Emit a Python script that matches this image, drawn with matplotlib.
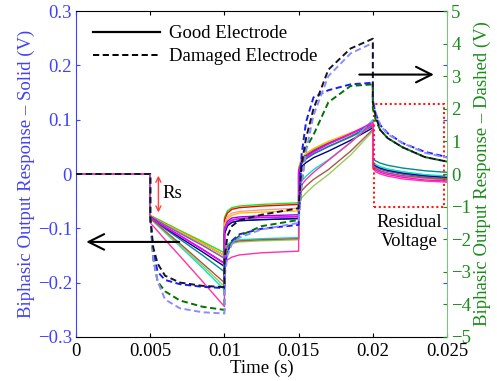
import matplotlib
matplotlib.use("Agg")
import matplotlib.pyplot as plt
from matplotlib.lines import Line2D
from matplotlib.patches import Rectangle

plt.rcParams['font.family'] = ['Liberation Serif', 'DejaVu Serif']
plt.rcParams['mathtext.fontset'] = 'stix'

# time grid (s): flat part, then the four phases of the pulse
t = [0, 0.005,
     0.005, 0.0052, 0.0055, 0.006, 0.007, 0.0085, 0.01,
     0.01, 0.0102, 0.0105, 0.011, 0.0125, 0.015,
     0.015, 0.0152, 0.0155, 0.016, 0.017, 0.0185, 0.02,
     0.02, 0.0202, 0.0205, 0.021, 0.022, 0.0235, 0.025]

# good electrodes (left axis, V)
good_green = [0, 0, -0.076, -0.079, -0.083, -0.090, -0.104, -0.124, -0.145,
              -0.080, -0.068, -0.062, -0.059, -0.056, -0.053,
              0.010, 0.028, 0.036, 0.045, 0.058, 0.074, 0.090,
              0.022, 0.017, 0.013, 0.009, 0.004, -0.002, -0.006]
good_red = [0, 0, -0.077, -0.080, -0.085, -0.092, -0.106, -0.127, -0.150,
            -0.085, -0.072, -0.065, -0.062, -0.059, -0.056,
            0.008, 0.026, 0.034, 0.043, 0.056, 0.072, 0.088,
            0.020, 0.015, 0.011, 0.007, 0.002, -0.004, -0.008]
good_salmon = [0, 0, -0.078, -0.081, -0.086, -0.094, -0.109, -0.131, -0.155,
               -0.092, -0.079, -0.072, -0.069, -0.066, -0.063,
               0.006, 0.024, 0.033, 0.042, 0.055, 0.072, 0.090,
               0.019, 0.014, 0.010, 0.006, 0.001, -0.005, -0.009]
good_orange = [0, 0, -0.077, -0.080, -0.085, -0.092, -0.106, -0.127, -0.150,
               -0.095, -0.083, -0.076, -0.072, -0.070, -0.068,
               0.010, 0.030, 0.038, 0.047, 0.060, 0.076, 0.092,
               0.021, 0.016, 0.012, 0.008, 0.003, -0.003, -0.007]
good_violet = [0, 0, -0.080, -0.083, -0.089, -0.097, -0.113, -0.138, -0.164,
               -0.100, -0.087, -0.081, -0.079, -0.077, -0.075,
               0.006, 0.024, 0.033, 0.042, 0.056, 0.074, 0.092,
               0.018, 0.013, 0.009, 0.005, 0.000, -0.006, -0.010]
good_slate = [0, 0, -0.078, -0.081, -0.086, -0.094, -0.109, -0.131, -0.155,
              -0.102, -0.090, -0.085, -0.082, -0.080, -0.078,
              0.004, 0.020, 0.028, 0.037, 0.050, 0.068, 0.088,
              0.019, 0.014, 0.010, 0.006, 0.001, -0.004, -0.008]
good_teal = [0, 0, -0.081, -0.085, -0.091, -0.101, -0.120, -0.149, -0.180,
             -0.110, -0.096, -0.089, -0.086, -0.084, -0.082,
             0.004, 0.020, 0.028, 0.037, 0.051, 0.069, 0.090,
             0.028, 0.024, 0.020, 0.016, 0.011, 0.006, 0.003]
good_navy = [0, 0, -0.079, -0.083, -0.089, -0.099, -0.117, -0.143, -0.170,
             -0.110, -0.095, -0.089, -0.086, -0.084, -0.082,
             -0.002, 0.014, 0.021, 0.030, 0.042, 0.062, 0.085,
             0.020, 0.015, 0.011, 0.007, 0.002, -0.003, -0.006]
good_aqua = [0, 0, -0.082, -0.087, -0.095, -0.108, -0.133, -0.172, -0.213,
             -0.145, -0.130, -0.124, -0.121, -0.119, -0.117,
             -0.030, -0.013, -0.004, 0.008, 0.026, 0.058, 0.100,
             0.022, 0.017, 0.013, 0.009, 0.004, -0.001, -0.004]
good_lime = [0, 0, -0.082, -0.087, -0.094, -0.107, -0.131, -0.168, -0.207,
             -0.150, -0.135, -0.128, -0.125, -0.123, -0.121,
             -0.060, -0.044, -0.035, -0.022, -0.001, 0.035, 0.079,
             0.014, 0.009, 0.005, 0.001, -0.004, -0.008, -0.011]
good_brown = [0, 0, -0.081, -0.086, -0.093, -0.105, -0.128, -0.164, -0.200,
              -0.148, -0.133, -0.126, -0.123, -0.121, -0.119,
              -0.050, -0.031, -0.022, -0.010, 0.008, 0.042, 0.082,
              0.015, 0.010, 0.006, 0.002, -0.003, -0.007, -0.010]
good_magenta = [0, 0, -0.079, -0.083, -0.089, -0.098, -0.114, -0.139, -0.165,
                -0.105, -0.092, -0.085, -0.082, -0.080, -0.079,
                0.002, 0.022, 0.031, 0.040, 0.055, 0.074, 0.095,
                0.012, 0.007, 0.003, -0.001, -0.006, -0.011, -0.013]
good_pink = [0, 0, -0.090, -0.096, -0.105, -0.121, -0.151, -0.197, -0.244,
             -0.165, -0.158, -0.153, -0.149, -0.145, -0.142,
             -0.040, -0.020, -0.010, 0.003, 0.025, 0.058, 0.093,
             0.010, 0.004, 0.000, -0.004, -0.009, -0.013, -0.015]

# damaged electrodes (right axis, V)
bad_black = [0, 0, -1.3, -2.25, -2.75, -3.12, -3.33, -3.43, -3.47,
             -2.6, -1.9, -1.6, -1.42, -1.25, -1.05,
             -1.0, 0.3, 1.1, 2.0, 3.2, 3.85, 4.15,
             2.2, 1.75, 1.35, 1.1, 0.82, 0.52, 0.38]
bad_lavender = [0, 0, -1.3, -2.6, -3.3, -3.85, -4.12, -4.24, -4.28,
                -3.2, -2.5, -2.15, -1.95, -1.7, -1.5,
                -1.45, -0.3, 0.7, 1.8, 3.0, 3.7, 4.02,
                2.3, 1.85, 1.5, 1.22, 0.95, 0.65, 0.5]
bad_blue = [0, 0, -1.3, -2.4, -3.0, -3.25, -3.38, -3.46, -3.5,
            -2.9, -2.4, -2.05, -1.85, -1.68, -1.56,
            -1.5, 0.6, 1.6, 2.35, 2.57, 2.75, 2.8,
            2.2, 1.85, 1.5, 1.25, 0.95, 0.68, 0.52]
bad_green = [0, 0, -1.3, -2.6, -3.3, -3.6, -3.88, -4.07, -4.17,
             -3.0, -2.4, -2.1, -1.9, -1.6, -1.41,
             -1.35, -0.3, 0.8, 1.2, 2.2, 2.7, 2.75,
             2.0, 1.65, 1.35, 1.1, 0.82, 0.52, 0.38]

good = [(good_green, (0.1, 0.9, 0.1)), (good_red, (1, 0, 0)),
        (good_salmon, (1, 0.6, 0.6)), (good_orange, (1, 0.75, 0)),
        (good_violet, (0.6, 0, 1)), (good_slate, (0.4, 0.4, 0.8)),
        (good_teal, (0, 0.55, 0.55)), (good_navy, (0, 0, 0.5)),
        (good_aqua, (0, 0.9, 0.8)), (good_lime, (0.6, 0.8, 0.35)),
        (good_brown, (0.65, 0.35, 0.3)), (good_magenta, (1, 0, 1)),
        (good_pink, (1, 0.2, 0.65))]
bad = [(bad_blue, (0.1, 0.1, 1)), (bad_green, (0, 0.45, 0)),
       (bad_lavender, (0.55, 0.55, 1)), (bad_black, (0.08, 0.08, 0.15))]

blue_c = (0.25, 0.25, 1)
green_c = (0.1, 0.55, 0.1)
dash = (0, (3.2, 1.8))

fig = plt.figure(figsize=(4.97, 3.81), dpi=100)
ax1 = fig.add_axes([0.153, 0.1155, 0.7465, 0.8556])
ax2 = ax1.twinx()

for y, c in good:
    ax1.plot(t, y, color=c, lw=1.0)
for y, c in bad:
    ax2.plot(t, y, color=c, lw=1.4, linestyle=dash)

ax1.set_xlim(0, 0.025)
ax1.set_ylim(-0.3, 0.3)
ax2.set_ylim(-5, 5)
ax1.set_xticks([0, 0.005, 0.01, 0.015, 0.02, 0.025])
ax1.set_xticklabels(['0', '0.005', '0.01', '0.015', '0.02', '0.025'])
ax1.set_yticks([-0.3, -0.2, -0.1, 0, 0.1, 0.2, 0.3])
ax1.set_yticklabels(['\u22120.3', '\u22120.2', '\u22120.1', '0', '0.1', '0.2', '0.3'])
ax2.set_yticks(range(-5, 6))

ax1.tick_params(axis='x', direction='in', top=True, length=3, labelsize=13.5, pad=4)
ax1.tick_params(axis='y', direction='in', right=True, length=3, labelsize=13.5,
                colors=blue_c, pad=3)
ax2.tick_params(axis='y', direction='in', length=3, labelsize=13.5,
                colors=green_c, pad=3)

ax1.spines['left'].set_color(blue_c)
ax1.spines['right'].set_visible(False)
ax2.spines['left'].set_visible(False)
ax2.spines['right'].set_color((0.5, 0.75, 0.5))
ax2.spines['top'].set_visible(False)
ax2.spines['bottom'].set_visible(False)

ax1.set_xlabel('Time (s)', fontsize=13.5, labelpad=0)
ax1.set_ylabel('Biphasic Output Response \u2013 Solid (V)', fontsize=13.5,
               color=blue_c, labelpad=2)
ax2.set_ylabel('Biphasic Output Response \u2013 Dashed (V)', fontsize=13.5,
               color=green_c, labelpad=2)

# annotations
ax2.annotate('', xy=(0.0005, -0.125), xytext=(0.00714, -0.125),
             xycoords=ax1.transData, textcoords=ax1.transData,
             arrowprops=dict(arrowstyle='->', color='black', lw=1.5,
                             mutation_scale=28))
ax2.annotate('', xy=(0.0243, 3.05), xytext=(0.0189, 3.05),
             arrowprops=dict(arrowstyle='->', color='black', lw=1.5,
                             mutation_scale=28))
ax2.annotate('', xy=(0.00555, 0.002), xytext=(0.00555, -0.076),
             xycoords=ax1.transData, textcoords=ax1.transData,
             arrowprops=dict(arrowstyle='<->', color=(1, 0.25, 0.25), lw=1.0,
                             mutation_scale=9))
ax1.text(0.00585, -0.036, 'Rs', fontsize=13.5, va='center', ha='left')
ax1.add_patch(Rectangle((0.0201, -0.06), 0.0047, 0.189, fill=False,
                        edgecolor=(1, 0.1, 0.1), lw=1.5,
                        linestyle=(0, (1, 1.3)), zorder=5))
ax1.text(0.02245, -0.107, 'Residual\nVoltage', fontsize=13.5, ha='center',
         va='center', linespacing=1.1)

handles = [Line2D([], [], color='black', lw=1.6),
           Line2D([], [], color='black', lw=1.4, linestyle=dash)]
ax2.legend(handles, ['Good Electrode', 'Damaged Electrode'], loc='upper left',
           bbox_to_anchor=(0.02, 0.985), frameon=False, fontsize=13.5,
           handlelength=3.6, handletextpad=0.45, labelspacing=0.3,
           borderaxespad=0.1)

fig.savefig('out.png', dpi=100)
